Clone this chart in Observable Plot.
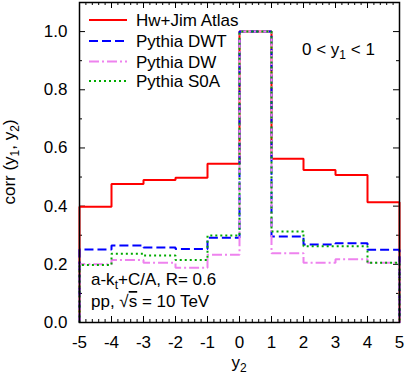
<!DOCTYPE html>
<html>
<head>
<meta charset="utf-8">
<script src="https://cdn.jsdelivr.net/npm/d3@7"></script>
<script src="https://cdn.jsdelivr.net/npm/@observablehq/plot@0.6"></script>
<style>
  html, body { margin: 0; padding: 0; background: white; }
</style>
</head>
<body>
<div id="chart"></div>
<script>
// Bin edges of y2 (10 bins of width 1 from -5 to 5)
const binEdges = [-5, -4, -3, -2, -1, 0, 1, 2, 3, 4, 5];

// Series values, one per bin
const hwJimAtlas = [0.398, 0.476, 0.490, 0.498, 0.546, 1.0, 0.563, 0.524, 0.507, 0.413];
const pythiaDWT  = [0.251, 0.265, 0.258, 0.253, 0.291, 1.0, 0.296, 0.268, 0.272, 0.250];
const pythiaDW   = [0.200, 0.215, 0.205, 0.188, 0.233, 1.0, 0.238, 0.205, 0.217, 0.205];
const pythiaS0A  = [0.198, 0.236, 0.230, 0.215, 0.299, 1.0, 0.313, 0.262, 0.262, 0.205];

const seriesNames = ["Hw+Jim Atlas", "Pythia DWT", "Pythia DW", "Pythia S0A"];

// Tick values
const xMajorTicks = [-5, -4, -3, -2, -1, 0, 1, 2, 3, 4, 5];
const xMinorTicks = d3.range(-50, 51, 2).map(d => d / 10).filter(d => !Number.isInteger(d));
const yMajorTicks = [0.0, 0.2, 0.4, 0.6, 0.8, 1.0];
const yMinorTicks = [0.1, 0.3, 0.5, 0.7, 0.9];

const styles = [
  {stroke: "#ff0000", dash: null},
  {stroke: "#0000ff", dash: "9,4"},
  {stroke: "#ee82ee", dash: "10,3,2,3"},
  {stroke: "#00aa00", dash: "2,3"}
];

// Build histogram outline points (edges drop to zero at both ends)
function histPoints(values, name) {
  const pts = [{x: binEdges[0], y: 0, s: name}];
  values.forEach((v, i) => {
    pts.push({x: binEdges[i], y: v, s: name});
    pts.push({x: binEdges[i + 1], y: v, s: name});
  });
  pts.push({x: binEdges[binEdges.length - 1], y: 0, s: name});
  return pts;
}
const allSeries = [hwJimAtlas, pythiaDWT, pythiaDW, pythiaS0A];

const W = 405, H = 374;
const mL = 79, mR = 6, mT = 2, mB = 52;
const pw = W - mL - mR, ph = H - mT - mB;
const majorLen = 6, minorLen = 3;
const FONT = "'Liberation Sans', Arial, Helvetica, sans-serif";

const lineMarks = allSeries.map((vals, i) =>
  Plot.line(histPoints(vals, seriesNames[i]), {
    x: "x", y: "y",
    stroke: styles[i].stroke,
    strokeWidth: 2,
    strokeDasharray: styles[i].dash,
    strokeLinecap: "butt",
    strokeLinejoin: "miter"
  })
);

const chart = Plot.plot({
  width: W, height: H,
  marginLeft: mL, marginRight: mR, marginTop: mT, marginBottom: mB,
  x: {domain: [-5, 5]},
  y: {domain: [0, 1.1]},
  style: {fontFamily: FONT, fontSize: "17px", background: "white", color: "black", overflow: "visible"},
  marks: [
    Plot.axisX({ticks: xMajorTicks, tickSize: 0, tickPadding: 13, tickFormat: d => String(d), label: null, fontSize: 17}),
    Plot.axisY({ticks: yMajorTicks, tickSize: 0, tickPadding: 12, tickFormat: d3.format(".1f"), label: null, fontSize: 17}),
    // inward ticks: left / right
    Plot.tickY(yMajorTicks, {y: d => d, insetRight: pw - majorLen, stroke: "black", strokeWidth: 1}),
    Plot.tickY(yMajorTicks, {y: d => d, insetLeft: pw - majorLen, stroke: "black", strokeWidth: 1}),
    Plot.tickY(yMinorTicks, {y: d => d, insetRight: pw - minorLen, stroke: "black", strokeWidth: 1}),
    Plot.tickY(yMinorTicks, {y: d => d, insetLeft: pw - minorLen, stroke: "black", strokeWidth: 1}),
    // inward ticks: bottom / top
    Plot.tickX(xMajorTicks, {x: d => d, insetTop: ph - majorLen, stroke: "black", strokeWidth: 1}),
    Plot.tickX(xMajorTicks, {x: d => d, insetBottom: ph - majorLen, stroke: "black", strokeWidth: 1}),
    Plot.tickX(xMinorTicks, {x: d => d, insetTop: ph - minorLen, stroke: "black", strokeWidth: 1}),
    Plot.tickX(xMinorTicks, {x: d => d, insetBottom: ph - minorLen, stroke: "black", strokeWidth: 1}),
    ...lineMarks,
    Plot.frame({stroke: "black", strokeWidth: 1.5})
  ]
});

document.getElementById("chart").appendChild(chart);

// Annotations with subscripts, added as real SVG text
const svg = d3.select(chart);
function richText(x, y, parts, opts = {}) {
  const t = svg.append("text")
    .attr("x", x).attr("y", y)
    .attr("font-family", FONT)
    .attr("font-size", 17)
    .attr("fill", "black")
    .attr("text-anchor", opts.anchor || "start");
  if (opts.rotate) t.attr("transform", `rotate(${opts.rotate},${x},${y})`);
  parts.forEach(p => {
    const s = t.append("tspan").text(p.t);
    if (p.sub) s.attr("font-size", 12).attr("dy", 4);
    if (p.back) s.attr("dy", -4);
    if (p.over) s.attr("text-decoration", "overline");
  });
  return t;
}

// Legend
const legendY = [20, 41, 61.5, 81];
seriesNames.forEach((name, i) => {
  svg.append("line")
    .attr("x1", 89).attr("x2", 127)
    .attr("y1", legendY[i]).attr("y2", legendY[i])
    .attr("stroke", styles[i].stroke)
    .attr("stroke-width", 2)
    .attr("stroke-dasharray", styles[i].dash);
  svg.append("text")
    .attr("x", 136).attr("y", legendY[i] + 6)
    .attr("text-anchor", "start")
    .attr("font-family", FONT).attr("font-size", 17)
    .text(name);
});

// Region annotation
richText(302, 55, [{t: "0 < y"}, {t: "1", sub: true}, {t: " < 1", back: true}]);

// Algorithm / energy annotations
richText(91, 285, [{t: "a-k"}, {t: "t", sub: true}, {t: "+C/A, R= 0.6", back: true}]);
richText(91, 307, [{t: "pp, √"}, {t: "s", over: true}, {t: " = 10 TeV"}]);

// Axis titles
richText(mL + pw / 2, 368, [{t: "y"}, {t: "2", sub: true}], {anchor: "middle"});
richText(15, 162, [{t: "corr (y"}, {t: "1", sub: true}, {t: ", y", back: true}, {t: "2", sub: true}, {t: ")", back: true}], {anchor: "middle", rotate: -90});
</script>
</body>
</html>
